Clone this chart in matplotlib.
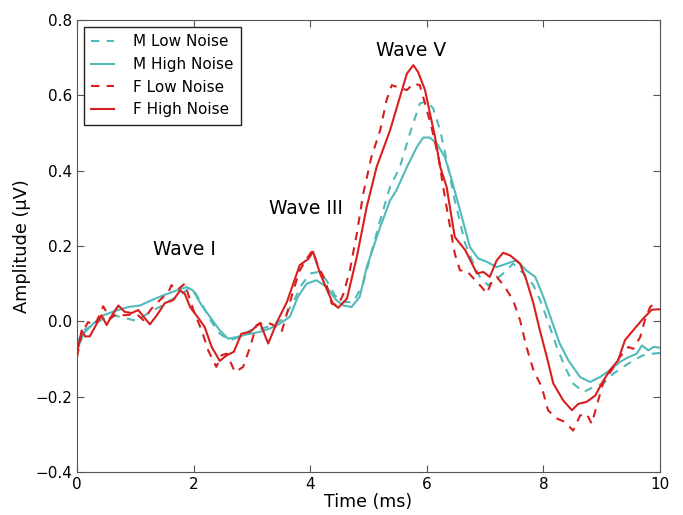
import numpy as np
import matplotlib
matplotlib.use('Agg')
import matplotlib.pyplot as plt

# digitised averages (time in ms, amplitude in uV)
m_low_t = [0, 0.11, 0.28, 0.45, 0.62, 0.79, 0.97, 1.08, 1.25, 1.42, 1.6, 1.77, 1.91,
           2.02, 2.17, 2.31, 2.45, 2.62, 2.79, 2.97, 3.17, 3.37, 3.54, 3.71, 3.85,
           4.0, 4.14, 4.28, 4.42, 4.57, 4.74, 4.91, 5.03, 5.2, 5.37, 5.54, 5.71,
           5.88, 6.0, 6.11, 6.23, 6.34, 6.48, 6.66, 6.8, 6.91, 7.05, 7.17, 7.31,
           7.48, 7.66, 7.83, 7.97, 8.11, 8.23, 8.37, 8.51, 8.69, 8.86, 9.03, 9.2,
           9.37, 9.54, 9.71, 9.86, 10.0]
m_low_y = [-0.06, -0.024, -0.01, 0.007, 0.016, 0.01, 0.003, 0.007, 0.025, 0.038,
           0.056, 0.069, 0.087, 0.078, 0.038, -0.002, -0.033, -0.05, -0.042,
           -0.024, -0.019, -0.01, 0.007, 0.051, 0.096, 0.127, 0.131, 0.109, 0.069,
           0.051, 0.051, 0.1, 0.171, 0.268, 0.357, 0.41, 0.499, 0.578, 0.585,
           0.565, 0.507, 0.428, 0.321, 0.206, 0.153, 0.118, 0.096, 0.109, 0.127,
           0.153, 0.127, 0.096, 0.047, -0.015, -0.068, -0.121, -0.165, -0.188,
           -0.174, -0.165, -0.139, -0.121, -0.104, -0.09, -0.086, -0.084]

m_high_t = [0, 0.11, 0.28, 0.45, 0.68, 0.88, 1.08, 1.28, 1.48, 1.71, 1.88, 1.99,
            2.14, 2.28, 2.45, 2.59, 2.74, 2.91, 3.14, 3.31, 3.48, 3.65, 3.79, 3.94,
            4.11, 4.28, 4.45, 4.57, 4.71, 4.85, 4.97, 5.2, 5.37, 5.48, 5.66, 5.83,
            5.94, 6.05, 6.17, 6.31, 6.43, 6.57, 6.74, 6.88, 7.03, 7.2, 7.37, 7.54,
            7.71, 7.86, 8.0, 8.14, 8.28, 8.43, 8.63, 8.8, 8.97, 9.14, 9.31, 9.46,
            9.6, 9.69, 9.8, 9.89, 10.0]
m_high_y = [-0.077, -0.033, -0.006, 0.016, 0.029, 0.038, 0.042, 0.056, 0.069,
            0.082, 0.091, 0.082, 0.042, 0.012, -0.024, -0.046, -0.042, -0.035,
            -0.028, -0.019, -0.006, 0.012, 0.065, 0.1, 0.109, 0.091, 0.056, 0.042,
            0.038, 0.065, 0.144, 0.25, 0.321, 0.348, 0.41, 0.463, 0.488, 0.488,
            0.472, 0.436, 0.374, 0.295, 0.197, 0.167, 0.158, 0.144, 0.153, 0.162,
            0.135, 0.118, 0.065, 0.003, -0.059, -0.104, -0.148, -0.161, -0.148,
            -0.13, -0.108, -0.095, -0.086, -0.064, -0.077, -0.068, -0.07]

f_low_t = [0, 0.08, 0.19, 0.31, 0.45, 0.57, 0.68, 0.82, 1.02, 1.14, 1.28, 1.42,
           1.57, 1.62, 1.71, 1.85, 1.94, 2.02, 2.14, 2.25, 2.39, 2.48, 2.57, 2.71,
           2.85, 2.97, 3.08, 3.25, 3.37, 3.51, 3.6, 3.71, 3.82, 3.94, 4.04, 4.14,
           4.25, 4.37, 4.48, 4.57, 4.68, 4.8, 4.91, 5.05, 5.2, 5.31, 5.4, 5.57,
           5.66, 5.77, 5.88, 5.97, 6.08, 6.2, 6.31, 6.4, 6.48, 6.57, 6.68, 6.83,
           6.94, 7.03, 7.11, 7.2, 7.34, 7.48, 7.6, 7.71, 7.83, 7.97, 8.08, 8.23,
           8.37, 8.51, 8.63, 8.74, 8.83, 8.94, 9.03, 9.17, 9.31, 9.46, 9.54, 9.66,
           9.74, 9.83, 9.94]
f_low_y = [-0.095, -0.033, -0.002, -0.01, 0.04, 0.007, 0.02, 0.016, 0.02, 0.003,
           0.034, 0.056, 0.078, 0.096, 0.082, 0.1, 0.056, 0.02, -0.024, -0.077,
           -0.121, -0.09, -0.086, -0.135, -0.121, -0.068, -0.01, -0.002, -0.01,
           -0.028, 0.02, 0.082, 0.135, 0.166, 0.188, 0.144, 0.113, 0.047, 0.042,
           0.073, 0.135, 0.233, 0.339, 0.436, 0.507, 0.587, 0.627, 0.618, 0.614,
           0.631, 0.627, 0.578, 0.516, 0.436, 0.33, 0.25, 0.18, 0.135, 0.135,
           0.109, 0.091, 0.074, 0.104, 0.118, 0.091, 0.056, 0.003, -0.068, -0.13,
           -0.174, -0.236, -0.258, -0.267, -0.29, -0.25, -0.245, -0.272, -0.21,
           -0.161, -0.13, -0.095, -0.068, -0.073, -0.042, 0.003, 0.038, 0.051]

f_high_t = [0, 0.08, 0.14, 0.22, 0.34, 0.42, 0.51, 0.6, 0.71, 0.82, 0.94, 1.05,
            1.25, 1.37, 1.51, 1.65, 1.77, 1.85, 1.94, 2.09, 2.19, 2.31, 2.45, 2.57,
            2.69, 2.82, 2.97, 3.14, 3.28, 3.43, 3.6, 3.71, 3.82, 3.97, 4.05, 4.17,
            4.28, 4.39, 4.48, 4.63, 4.8, 4.97, 5.14, 5.37, 5.54, 5.66, 5.77, 5.85,
            5.97, 6.14, 6.23, 6.34, 6.48, 6.66, 6.86, 6.97, 7.08, 7.2, 7.31, 7.43,
            7.6, 7.71, 7.83, 7.94, 8.06, 8.17, 8.34, 8.49, 8.6, 8.74, 8.89, 9.0,
            9.14, 9.28, 9.4, 9.54, 9.71, 9.86, 10.0]
f_high_y = [-0.085, -0.024, -0.04, -0.04, -0.006, 0.016, -0.01, 0.016, 0.042,
            0.025, 0.022, 0.03, -0.008, 0.016, 0.049, 0.056, 0.082, 0.073, 0.038,
            0.007, -0.015, -0.068, -0.105, -0.09, -0.081, -0.033, -0.028, -0.004,
            -0.059, -0.002, 0.051, 0.1, 0.149, 0.166, 0.185, 0.127, 0.087, 0.047,
            0.036, 0.06, 0.171, 0.304, 0.41, 0.507, 0.596, 0.658, 0.68, 0.662,
            0.614, 0.49, 0.41, 0.357, 0.224, 0.189, 0.127, 0.131, 0.118, 0.162,
            0.182, 0.175, 0.153, 0.109, 0.047, -0.024, -0.095, -0.165, -0.21,
            -0.236, -0.219, -0.214, -0.197, -0.165, -0.13, -0.104, -0.05, -0.024,
            0.007, 0.031, 0.032]

wave_labels = ['Wave I', 'Wave III', 'Wave V']
wave_pos = [(1.85, 0.19), (3.92, 0.30), (5.73, 0.72)]

yticks = [-0.4, -0.2, 0.0, 0.2, 0.4, 0.6, 0.8]
xticks = [0, 2, 4, 6, 8, 10]

cyan = '#52baba'
red = '#d81e1e'

fig = plt.figure(figsize=(6.83, 5.15), dpi=100)
ax = fig.add_axes([0.1127, 0.0835, 0.8536, 0.8777])

ax.plot(m_low_t, m_low_y, color=cyan, lw=1.5, ls='--', dashes=(4, 3.5), label='M Low Noise')
ax.plot(m_high_t, m_high_y, color=cyan, lw=1.5, label='M High Noise')
ax.plot(f_low_t, f_low_y, color=red, lw=1.5, ls='--', dashes=(4, 3.5), label='F Low Noise')
ax.plot(f_high_t, f_high_y, color=red, lw=1.5, label='F High Noise')

for lab, (xx, yy) in zip(wave_labels, wave_pos):
    ax.text(xx, yy, lab, fontsize=13.5, ha='center', va='center')

ax.set_xlim(0, 10)
ax.set_ylim(-0.4, 0.8)
ax.set_xticks(xticks)
ax.set_yticks(yticks)
ax.set_yticklabels([('%.1f' % v).replace('-', '\u2212') for v in yticks])
ax.tick_params(direction='in', top=True, right=True, length=5, labelsize=11, color='#555555')
for s in ax.spines.values():
    s.set_color('#555555')
ax.set_xlabel('Time (ms)', fontsize=12.5, labelpad=1)
ax.set_ylabel('Amplitude (\u00b5V)', fontsize=12.8, labelpad=3)

leg = ax.legend(loc='upper left', fontsize=11, fancybox=False, framealpha=1,
                handlelength=1.5, handletextpad=1.2, borderaxespad=0.45,
                labelspacing=0.5, borderpad=0.5)
leg.get_frame().set_edgecolor('#222222')

fig.savefig('out.png', dpi=100)
